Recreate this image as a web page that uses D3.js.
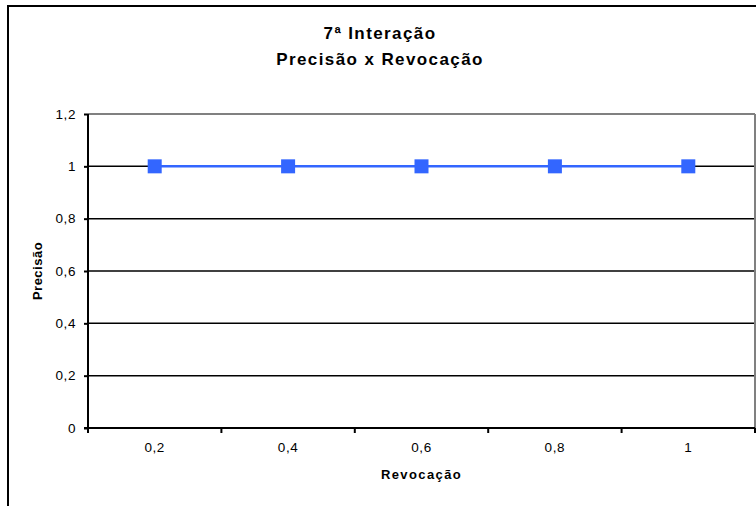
<!DOCTYPE html>
<html><head><meta charset="utf-8">
<script src="https://cdn.jsdelivr.net/npm/d3@7"></script>
<style>body{margin:0;background:#fff}svg{display:block}text{font-family:"Liberation Sans",Arial,sans-serif}</style>
</head><body>
<svg id="c" width="756" height="506"></svg>
<script>
const categories = ["0,2","0,4","0,6","0,8","1"];
const precision = [1,1,1,1,1];
const yTicks = [0,0.2,0.4,0.6,0.8,1,1.2];
const titleLines = ["7ª Interação","Precisão x Revocação"];
const xTitle = "Revocação";
const yTitle = "Precisão";

const svg = d3.select("#c");
svg.append("rect").attr("x",8).attr("y",6).attr("width",760).attr("height",520)
  .attr("fill","#fff").attr("stroke","#000").attr("stroke-width",2);

const L=88, R=755, T=114, B=428;
const x = d3.scaleBand().domain(categories).range([L,R]).padding(0);
const y = d3.scaleLinear().domain([0,1.2]).range([B,T]);

svg.append("g").selectAll("line").data(yTicks.filter(d=>d>0)).join("line")
  .attr("x1",L).attr("x2",R).attr("y1",d=>y(d)).attr("y2",d=>y(d))
  .attr("stroke",d=>d===1.2?"#808080":"#000").attr("stroke-width",d=>d===1.2?2:1.5);
svg.append("line").attr("x1",R).attr("x2",R).attr("y1",T).attr("y2",B)
  .attr("stroke","#808080").attr("stroke-width",2);

const yAxis = d3.axisLeft(y).tickValues(yTicks).tickSize(4).tickPadding(8)
  .tickFormat(d=>d3.format(".1~f")(d).replace(".",","));
const gy = svg.append("g").attr("transform",`translate(${L},0)`).call(yAxis);
gy.select(".domain").attr("stroke","#000").attr("stroke-width",2).attr("d",`M0,${T}V${B}`);
gy.selectAll(".tick line").attr("stroke","#000").attr("stroke-width",2);
gy.selectAll("text").attr("font-size",13.5).attr("fill","#000").style("letter-spacing","0.6px")
  .style("font-family",'"Liberation Sans",Arial,sans-serif');

const gx = svg.append("g").attr("transform",`translate(0,${B})`);
gx.append("line").attr("x1",L-4).attr("x2",R).attr("stroke","#000").attr("stroke-width",2);
const bounds = categories.map(c=>x(c)).concat([R]);
gx.selectAll("line.t").data(bounds).join("line").attr("class","t")
  .attr("x1",d=>d).attr("x2",d=>d).attr("y1",0).attr("y2",5).attr("stroke","#000").attr("stroke-width",2);
gx.selectAll("text").data(categories).join("text")
  .attr("x",d=>x(d)+x.bandwidth()/2).attr("y",24).attr("text-anchor","middle")
  .attr("font-size",13.5).style("letter-spacing","0.6px").text(d=>d);

const line = d3.line().x((d,i)=>x(categories[i])+x.bandwidth()/2).y(d=>y(d));
svg.append("path").datum(precision).attr("d",line).attr("fill","none")
  .attr("stroke","#3366FF").attr("stroke-width",2.5);
svg.append("g").selectAll("rect").data(precision).join("rect")
  .attr("x",(d,i)=>x(categories[i])+x.bandwidth()/2-7).attr("y",d=>y(d)-7)
  .attr("width",14).attr("height",14).attr("fill","#3366FF");

svg.append("g").selectAll("text").data(titleLines).join("text")
  .attr("x",380).attr("y",(d,i)=>39+i*26).attr("text-anchor","middle")
  .attr("font-size",17).attr("font-weight","bold").style("letter-spacing","1.4px").text(d=>d);
svg.append("text").attr("x",(L+R)/2).attr("y",479).attr("text-anchor","middle")
  .attr("font-size",13).attr("font-weight","bold").style("letter-spacing","1.4px").text(xTitle);
svg.append("text").attr("transform",`translate(42,${(T+B)/2}) rotate(-90)`).attr("text-anchor","middle")
  .attr("font-size",13).attr("font-weight","bold").style("letter-spacing","0.5px").text(yTitle);
</script>
</body></html>
